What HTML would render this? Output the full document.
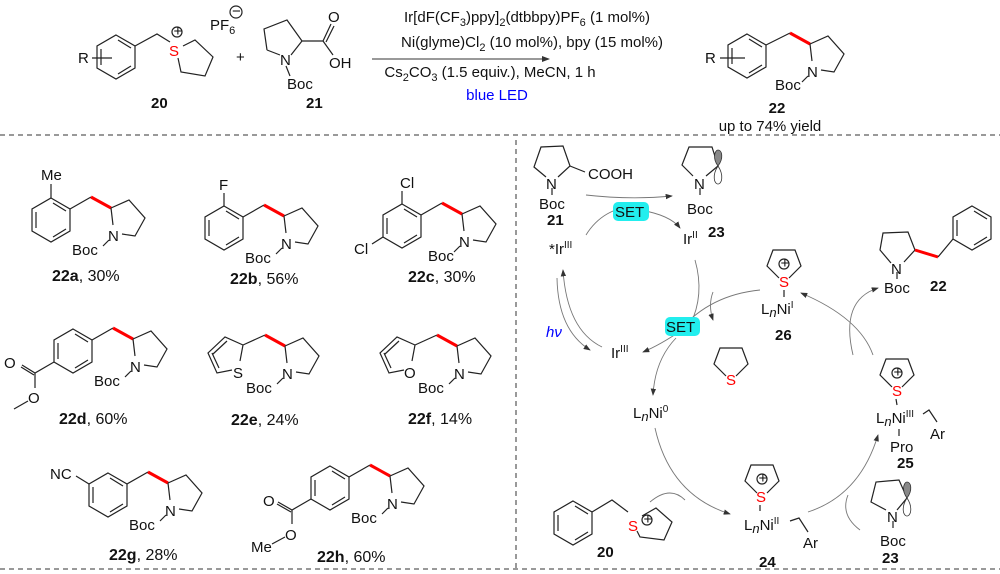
<!DOCTYPE html>
<html><head><meta charset="utf-8"><style>
html,body{margin:0;padding:0;background:#fff;}
svg{display:block;font-family:"Liberation Sans",sans-serif;}
.b{stroke:#222;stroke-width:1.2;fill:none;}
.r{stroke:#f00;stroke-width:3;fill:none;}
.a{stroke:#777;stroke-width:0.9;fill:none;}
text{font-size:15px;fill:#111;}
.s{fill:#f00;}
.lb{font-size:16px;}
.d{stroke:#333;stroke-width:1;stroke-dasharray:5,4;}
</style></head><body>
<svg width="1000" height="574" viewBox="0 0 1000 574" xmlns="http://www.w3.org/2000/svg">
<defs>
<g id="bz"><path class="b" d="M0,-22 L19,-11 L19,11 L0,22 L-19,11 L-19,-11Z M-15,-8 L-15,8 M2,17 L15,9 M2,-17 L15,-9"/></g>
<g id="pyr"><path class="r" d="M-20,-11 L0,0"/><path class="b" d="M0,0 L18,-8 L34,10 L24,28 L11,26 M0,0 L2,17 M-2,32 L-8,38"/></g>
<g id="thl"><path class="b" d="M-5,10 L-17,-2 L-11,-18 L11,-18 L17,-2 L5,10"/></g>
<marker id="ar" markerWidth="8" markerHeight="6" refX="7" refY="3" orient="auto"><path d="M0,0 L8,3 L0,6Z" fill="#333"/></marker>
</defs>

<line class="d" x1="0" y1="135" x2="1000" y2="135"/>
<line class="d" x1="0" y1="569" x2="1000" y2="569"/>
<line class="d" x1="516" y1="140" x2="516" y2="569"/>

<!-- Top reaction -->
<use href="#bz" x="116" y="57"/>
<text x="78" y="63" font-size="16">R</text>
<path class="b" d="M92,58 L112,58 M135,46 L157,34 L170,42"/>
<text x="169" y="56" class="s" font-size="16">S</text>
<circle cx="177" cy="32" r="5" class="b" stroke-width="0.8"/><text x="173.5" y="36" font-size="9">+</text>
<path class="b" d="M183,46 L195,40 L213,57 L205,76 L181,72 L178,58"/>
<text x="210" y="30" font-size="16">PF<tspan font-size="11" dy="4">6</tspan></text>
<circle cx="236" cy="12" r="6" class="b" stroke-width="0.8"/><text x="232" y="16" font-size="10">−</text>
<text x="151" y="108" font-weight="bold" font-size="16">20</text>
<text x="236" y="62" font-size="18">+</text>
<path class="b" d="M267,50 L264,29 L287,20 L302,41 L291,55 M280,55 L267,50 M302,41 L323,41 L331,24 M326,42 L334,26 M323,41 L333,55 M286,66 L290,76"/>
<text x="280" y="65" font-size="16">N</text>
<text x="328" y="22" font-size="16">O</text>
<text x="329" y="68" font-size="16">OH</text>
<text x="287" y="89" font-size="16">Boc</text>
<text x="306" y="108" font-weight="bold" font-size="16">21</text>
<line x1="372" y1="59" x2="549" y2="59" stroke="#333" stroke-width="1" marker-end="url(#ar)"/>
<text x="527" y="22" text-anchor="middle">Ir[dF(CF<tspan font-size="11" dy="4">3</tspan><tspan dy="-4">)ppy]</tspan><tspan font-size="11" dy="4">2</tspan><tspan dy="-4">(dtbbpy)PF</tspan><tspan font-size="11" dy="4">6</tspan><tspan dy="-4"> (1 mol%)</tspan></text>
<text x="532" y="47" text-anchor="middle">Ni(glyme)Cl<tspan font-size="11" dy="4">2</tspan><tspan dy="-4">  (10 mol%), bpy (15 mol%)</tspan></text>
<text x="490" y="77" text-anchor="middle">Cs<tspan font-size="11" dy="4">2</tspan><tspan dy="-4">CO</tspan><tspan font-size="11" dy="4">3</tspan><tspan dy="-4"> (1.5 equiv.), MeCN, 1 h</tspan></text>
<text x="497" y="100" text-anchor="middle" style="fill:#00f">blue LED</text>
<use href="#bz" x="747" y="56"/>
<text x="705" y="63" font-size="16">R</text>
<path class="b" d="M720,58 L745,58 M766,45 L790,33"/>
<use href="#pyr" x="810" y="44"/>
<text x="807" y="77">N</text>
<text x="775" y="90">Boc</text>
<text x="777" y="113" font-weight="bold" text-anchor="middle">22</text>
<text x="770" y="131" text-anchor="middle">up to 74% yield</text>

<!-- Scope -->
<use href="#bz" x="51" y="220"/>
<path class="b" d="M70,209 L91,197 M51,198 L51,184"/>
<use href="#pyr" x="111" y="208"/>
<text x="41" y="180">Me</text>
<text x="108" y="241">N</text>
<text x="72" y="255">Boc</text>
<text x="52" y="281" class="lb"><tspan font-weight="bold">22a</tspan>, 30%</text>

<use href="#bz" x="224" y="228"/>
<path class="b" d="M243,217 L264,205 M224,206 L224,193"/>
<use href="#pyr" x="284" y="216"/>
<text x="219" y="190">F</text>
<text x="281" y="249">N</text>
<text x="245" y="263">Boc</text>
<text x="230" y="284" class="lb"><tspan font-weight="bold">22b</tspan>, 56%</text>

<use href="#bz" x="402" y="226"/>
<path class="b" d="M421,215 L442,203 M402,204 L402,191 M383,237 L372,244"/>
<use href="#pyr" x="462" y="214"/>
<text x="400" y="188">Cl</text>
<text x="354" y="254">Cl</text>
<text x="459" y="247">N</text>
<text x="428" y="261">Boc</text>
<text x="408" y="282" class="lb"><tspan font-weight="bold">22c</tspan>, 30%</text>

<use href="#bz" x="73" y="351"/>
<path class="b" d="M92,340 L113,328 M54,362 L35,373 L22,365 M34,375 L21,367 M35,373 L35,388 M28,401 L14,409"/>
<use href="#pyr" x="133" y="339"/>
<text x="4" y="368">O</text>
<text x="28" y="403">O</text>
<text x="130" y="372">N</text>
<text x="94" y="386">Boc</text>
<text x="59" y="424" class="lb"><tspan font-weight="bold">22d</tspan>, 60%</text>

<path class="b" d="M243,345 L225,337 L208,353 L217,373 L232,370 M243,345 L240,361 M227,341 L213,354 M212,353 L219,368"/>
<text x="233" y="378">S</text>
<path class="b" d="M243,345 L265,335"/>
<use href="#pyr" x="285" y="346"/>
<text x="282" y="379">N</text>
<text x="246" y="393">Boc</text>
<text x="231" y="425" class="lb"><tspan font-weight="bold">22e</tspan>, 24%</text>

<path class="b" d="M415,345 L397,337 L380,353 L389,373 L404,370 M415,345 L412,361 M399,341 L385,354 M384,353 L391,368"/>
<text x="404" y="378">O</text>
<path class="b" d="M415,345 L437,335"/>
<use href="#pyr" x="457" y="346"/>
<text x="454" y="379">N</text>
<text x="418" y="393">Boc</text>
<text x="408" y="424" class="lb"><tspan font-weight="bold">22f</tspan>, 14%</text>

<use href="#bz" x="108" y="495"/>
<path class="b" d="M127,484 L148,472 M89,484 L76,476"/>
<use href="#pyr" x="168" y="483"/>
<text x="50" y="479">NC</text>
<text x="165" y="516">N</text>
<text x="129" y="530">Boc</text>
<text x="109" y="560" class="lb"><tspan font-weight="bold">22g</tspan>, 28%</text>

<use href="#bz" x="330" y="488"/>
<path class="b" d="M349,477 L370,465 M311,499 L292,510 L278,502 M291,512 L277,504 M292,510 L292,524 M285,537 L272,544"/>
<use href="#pyr" x="390" y="476"/>
<text x="263" y="506">O</text>
<text x="285" y="540">O</text>
<text x="251" y="552">Me</text>
<text x="387" y="509">N</text>
<text x="351" y="523">Boc</text>
<text x="317" y="562" class="lb"><tspan font-weight="bold">22h</tspan>, 60%</text>

<!-- Mechanism -->
<path class="b" d="M546,177 L534,167 L541,147 L563,146 L570,166 L558,177 M570,166 L585,172 M552,188 L552,195"/>
<text x="546" y="189">N</text>
<text x="588" y="179">COOH</text>
<text x="539" y="209">Boc</text>
<text x="547" y="225" font-weight="bold">21</text>
<path class="b" d="M693,176 L682,165 L689,147 L712,147 L718,166 L706,176 M700,188 L700,195"/>
<path d="M718,166 C712,158 715,150 718,150 C722,150 724,158 718,166Z" fill="#888" stroke="#333" stroke-width="0.8"/>
<path d="M718,166 C712,175 714,184 718,184 C722,184 724,175 718,166Z" fill="#fff" stroke="#333" stroke-width="0.8"/>
<text x="694" y="189">N</text>
<text x="687" y="214">Boc</text>
<text x="708" y="237" font-weight="bold">23</text>
<path class="a" d="M586,195 Q630,200 672,196" marker-end="url(#ar)"/>
<path class="a" d="M586,235 Q604,206 640,206"/>
<path class="a" d="M640,210 Q670,215 680,228" marker-end="url(#ar)"/>
<rect x="613" y="202" width="36" height="19" rx="5" fill="#22eeee"/>
<text x="615" y="217">SET</text>
<text x="549" y="254">*Ir<tspan font-size="10" dy="-6">III</tspan></text>
<text x="683" y="244">Ir<tspan font-size="10" dy="-6">II</tspan></text>
<path class="a" d="M695,260 Q705,295 690,325"/>
<path class="a" d="M557,278 Q558,330 590,350" marker-end="url(#ar)"/>
<path class="a" d="M602,347 Q567,330 563,270" marker-end="url(#ar)"/>
<text x="546" y="337" style="fill:#00f;font-style:italic">hν</text>
<text x="611" y="358">Ir<tspan font-size="10" dy="-6">III</tspan></text>
<path class="a" d="M760,290 Q710,295 680,330"/>
<path class="a" d="M682,330 Q660,345 643,352" marker-end="url(#ar)"/>
<path class="a" d="M713,292 Q708,305 713,320" marker-end="url(#ar)"/>
<path class="a" d="M676,338 Q655,360 653,395" marker-end="url(#ar)"/>
<rect x="665" y="317" width="35" height="19" rx="5" fill="#22eeee"/>
<text x="666" y="332">SET</text>
<use href="#thl" x="731" y="366"/>
<text x="726" y="385" class="s">S</text>
<use href="#thl" x="784" y="268"/>
<circle cx="784" cy="264" r="5" class="b" stroke-width="0.8"/><text x="780.5" y="268" font-size="9">+</text>
<text x="779" y="287" class="s">S</text>
<line class="b" x1="784" y1="290" x2="784" y2="297"/>
<text x="761" y="314">L<tspan font-style="italic" font-size="13" dy="3">n</tspan><tspan dy="-3">Ni</tspan><tspan font-size="10" dy="-6">I</tspan></text>
<text x="775" y="340" font-weight="bold">26</text>
<text x="633" y="418">L<tspan font-style="italic" font-size="13" dy="3">n</tspan><tspan dy="-3">Ni</tspan><tspan font-size="10" dy="-6">0</tspan></text>
<path class="a" d="M655,428 Q670,495 730,514" marker-end="url(#ar)"/>
<path class="a" d="M808,512 Q860,495 878,435" marker-end="url(#ar)"/>
<path class="a" d="M873,355 Q860,318 801,293" marker-end="url(#ar)"/>
<path class="a" d="M853,355 Q840,300 878,288" marker-end="url(#ar)"/>
<path class="a" d="M650,502 Q670,485 685,500"/>
<path class="a" d="M860,530 Q840,515 848,495"/>
<!-- 22 product in cycle -->
<path class="b" d="M891,263 L880,250 L883,233 L908,232 L915,250 L904,262 M897,272 L897,279"/>
<path class="r" d="M915,250 L938,257"/>
<path class="b" d="M938,257 L953,239"/>
<use href="#bz" x="972" y="228"/>
<text x="891" y="274">N</text>
<text x="884" y="293">Boc</text>
<text x="930" y="291" font-weight="bold">22</text>
<!-- 25 -->
<use href="#thl" x="897" y="377"/>
<circle cx="897" cy="373" r="5" class="b" stroke-width="0.8"/><text x="893.5" y="377" font-size="9">+</text>
<text x="892" y="396" class="s">S</text>
<line class="b" x1="896" y1="399" x2="897" y2="405"/>
<text x="876" y="423">L<tspan font-style="italic" font-size="13" dy="3">n</tspan><tspan dy="-3">Ni</tspan><tspan font-size="10" dy="-6">III</tspan></text>
<path class="b" d="M923,414 L929,410 L937,422 M899,429 L899,436"/>
<text x="930" y="439">Ar</text>
<text x="890" y="452">Pro</text>
<text x="897" y="468" font-weight="bold">25</text>
<!-- 20 bottom -->
<use href="#bz" x="573" y="523"/>
<path class="b" d="M592,512 L612,500 L628,512"/>
<text x="628" y="531" class="s">S</text>
<circle cx="647" cy="520" r="5" class="b" stroke-width="0.8"/><text x="643.5" y="524" font-size="9">+</text>
<path class="b" d="M642,516 L656,508 L672,522 L664,540 L640,537 L637,531"/>
<text x="597" y="557" font-weight="bold">20</text>
<!-- 24 -->
<use href="#thl" x="762" y="483"/>
<circle cx="762" cy="479" r="5" class="b" stroke-width="0.8"/><text x="758.5" y="483" font-size="9">+</text>
<text x="756" y="502" class="s">S</text>
<line class="b" x1="760" y1="505" x2="760" y2="511"/>
<text x="744" y="530">L<tspan font-style="italic" font-size="13" dy="3">n</tspan><tspan dy="-3">Ni</tspan><tspan font-size="10" dy="-6">II</tspan></text>
<path class="b" d="M790,521 L799,518 L808,532"/>
<text x="803" y="548">Ar</text>
<text x="759" y="567" font-weight="bold">24</text>
<!-- 23 bottom -->
<path class="b" d="M886,510 L871,502 L876,482 L899,480 L907,498 L897,510 M893,521 L893,528"/>
<path d="M907,498 C901,490 904,482 907,482 C911,482 913,490 907,498Z" fill="#888" stroke="#333" stroke-width="0.8"/>
<path d="M907,498 C901,507 903,516 907,516 C911,516 913,507 907,498Z" fill="#fff" stroke="#333" stroke-width="0.8"/>
<text x="887" y="522">N</text>
<text x="880" y="546">Boc</text>
<text x="882" y="563" font-weight="bold">23</text>
</svg>
</body></html>
